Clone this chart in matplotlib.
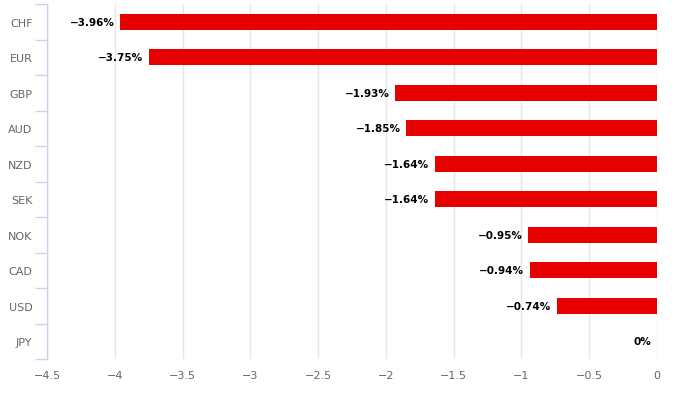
import matplotlib
matplotlib.use("Agg")
import matplotlib.pyplot as plt
import numpy as np
from matplotlib.ticker import FixedLocator

currencies = ["CHF", "EUR", "GBP", "AUD", "NZD", "SEK", "NOK", "CAD", "USD", "JPY"]
values = [-3.96, -3.75, -1.93, -1.85, -1.64, -1.64, -0.95, -0.94, -0.74, 0.0]
xticks = [-4.5, -4, -3.5, -3, -2.5, -2, -1.5, -1, -0.5, 0]

fig = plt.figure(figsize=(6.78, 4.02), dpi=100)
ax = fig.add_axes([47/678, 1-360/402, 610/678, 355/402])

y = np.arange(len(currencies))
ax.barh(y, values, height=0.46, color="#e60000", zorder=3)
ax.set_ylim(len(currencies) - 0.5, -0.5)
ax.set_xlim(-4.5, 0)

for yi, v in zip(y, values):
    lab = "0%" if v == 0 else ("\u2212%.2f%%" % abs(v))
    ax.annotate(lab, (v, yi), xytext=(-4, 0), textcoords="offset points",
                ha="right", va="center", fontsize=7.5, fontweight="bold", color="#000000")

ax.set_yticks(y)
ax.set_yticklabels(currencies)
ax.yaxis.set_minor_locator(FixedLocator(np.arange(-0.5, len(currencies), 1)))
ax.tick_params(axis="y", which="major", length=0, pad=10.5, labelsize=8, labelcolor="#666666")
ax.tick_params(axis="y", which="minor", length=9, color="#c8d4e6", width=1)

ax.set_xticks(xticks)
ax.set_xticklabels([("\u2212" + ("%g" % abs(t))) if t < 0 else "%g" % t for t in xticks])
ax.tick_params(axis="x", length=0, pad=8, labelsize=8, labelcolor="#666666")
ax.grid(axis="x", color="#e6e6e6", linewidth=1, zorder=0)

for s in ["top", "right", "bottom"]:
    ax.spines[s].set_visible(False)
ax.spines["left"].set_color("#c8d4e6")
ax.spines["left"].set_linewidth(1)

fig.savefig("out.png", dpi=100)
